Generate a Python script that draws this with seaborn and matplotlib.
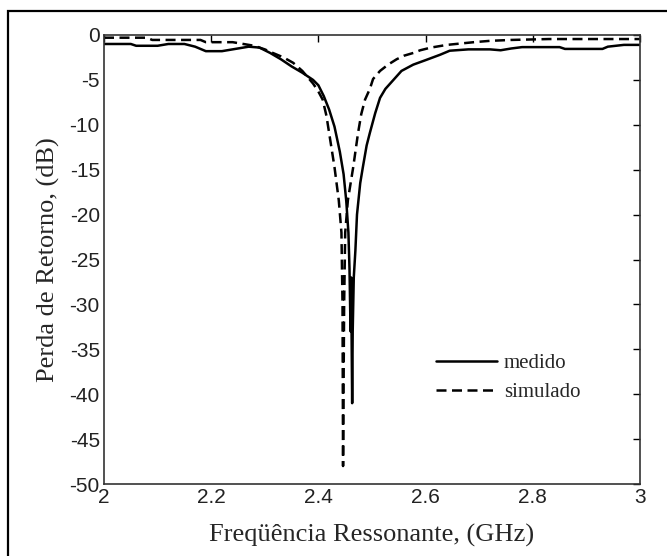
import numpy as np
import pandas as pd
import matplotlib
matplotlib.use("Agg")
import matplotlib.pyplot as plt
import seaborn as sns
from matplotlib.patches import Rectangle

# medido (measured) return loss
freq_med = [2.00, 2.05, 2.06, 2.10, 2.12, 2.15, 2.17, 2.19, 2.22, 2.24, 2.27, 2.29,
            2.31, 2.33, 2.35, 2.37, 2.39, 2.40, 2.41, 2.42, 2.43, 2.44, 2.447, 2.452,
            2.456, 2.458, 2.460, 2.461, 2.463, 2.464, 2.466, 2.469, 2.472, 2.478,
            2.483, 2.49, 2.496, 2.506, 2.515, 2.525, 2.54, 2.555, 2.577, 2.60, 2.627,
            2.645, 2.68, 2.72, 2.74, 2.76, 2.78, 2.85, 2.86, 2.93, 2.94, 2.97, 3.00]
db_med = [-1.0, -1.0, -1.2, -1.2, -1.0, -1.0, -1.3, -1.8, -1.8, -1.6, -1.3, -1.4,
          -2.0, -2.7, -3.5, -4.2, -5.0, -5.6, -6.8, -8.3, -10.2, -13.0, -15.5, -18.5,
          -22.0, -26.0, -33.0, -27.0, -41.0, -33.0, -27.0, -24.0, -20.0, -16.5,
          -14.7, -12.3, -10.9, -8.7, -7.0, -6.0, -5.0, -4.0, -3.3, -2.8, -2.2,
          -1.75, -1.6, -1.6, -1.7, -1.5, -1.35, -1.35, -1.55, -1.55, -1.3, -1.1, -1.1]

# simulado (simulated) return loss
freq_sim = [2.00, 2.08, 2.09, 2.18, 2.19, 2.24, 2.26, 2.28, 2.30, 2.315, 2.335, 2.353,
            2.37, 2.39, 2.40, 2.408, 2.415, 2.42, 2.43, 2.438, 2.443, 2.445, 2.446,
            2.448, 2.450, 2.455, 2.465, 2.474, 2.480, 2.487, 2.496, 2.502, 2.515,
            2.53, 2.546, 2.56, 2.577, 2.59, 2.61, 2.64, 2.69, 2.72, 2.76, 2.83, 3.00]
db_sim = [-0.3, -0.3, -0.55, -0.55, -0.8, -0.8, -1.0, -1.2, -1.6, -2.0, -2.5, -3.1,
          -4.0, -5.4, -6.3, -7.2, -9.0, -10.9, -14.7, -18.4, -22.0, -30.0, -48.0,
          -30.0, -22.0, -18.4, -14.7, -10.9, -8.8, -7.2, -6.0, -4.9, -4.0,
          -3.3, -2.7, -2.3, -2.0, -1.7, -1.4, -1.1, -0.8, -0.65, -0.55, -0.45, -0.45]

sns.set_style("white")
plt.rcParams["font.family"] = ["Liberation Serif", "DejaVu Serif"]
plt.rcParams["axes.unicode_minus"] = False

fig = plt.figure(figsize=(6.67, 5.56), dpi=100)
ax = fig.add_axes([104 / 667, 1 - 484 / 556, 536 / 667, 449 / 556])

sns.lineplot(x=freq_med, y=db_med, ax=ax, color="black", lw=1.8, sort=False,
             estimator=None, label="medido")
sns.lineplot(x=freq_sim, y=db_sim, ax=ax, color="black", lw=1.8, sort=False,
             estimator=None, label="simulado", dashes=False)
ax.lines[1].set_dashes([4, 2.2])

ax.set_xlim(2, 3)
ax.set_ylim(-50, 0)
ax.set_xticks([2, 2.2, 2.4, 2.6, 2.8, 3])
ax.set_xticklabels(["2", "2.2", "2.4", "2.6", "2.8", "3"])
ax.set_yticks(np.arange(-50, 1, 5))
ax.tick_params(direction="in", length=5, width=1, top=True, right=True,
               pad=3, labelsize=15, colors="black")
for lab in ax.get_xticklabels() + ax.get_yticklabels():
    lab.set_family(["Liberation Sans", "DejaVu Sans"])
    lab.set_color("#222222")
for sp in ax.spines.values():
    sp.set_color("#333333")
    sp.set_linewidth(1.2)

ax.set_xlabel("Freqüência Ressonante, (GHz)", fontsize=19, labelpad=12)
ax.set_ylabel("Perda de Retorno, (dB)", fontsize=19, labelpad=7)

ax.legend(loc="upper left", bbox_to_anchor=(0.62, 0.29), frameon=False,
          fontsize=15, handlelength=2.9, handletextpad=0.35, labelspacing=0.45,
          borderpad=0, borderaxespad=0)

fig.patches.append(Rectangle((8 / 667, -0.1), 1.2, 1 - 11 / 556 + 0.1,
                             transform=fig.transFigure, fill=False,
                             edgecolor="black", lw=1.6))

fig.savefig("out.png", dpi=100)
